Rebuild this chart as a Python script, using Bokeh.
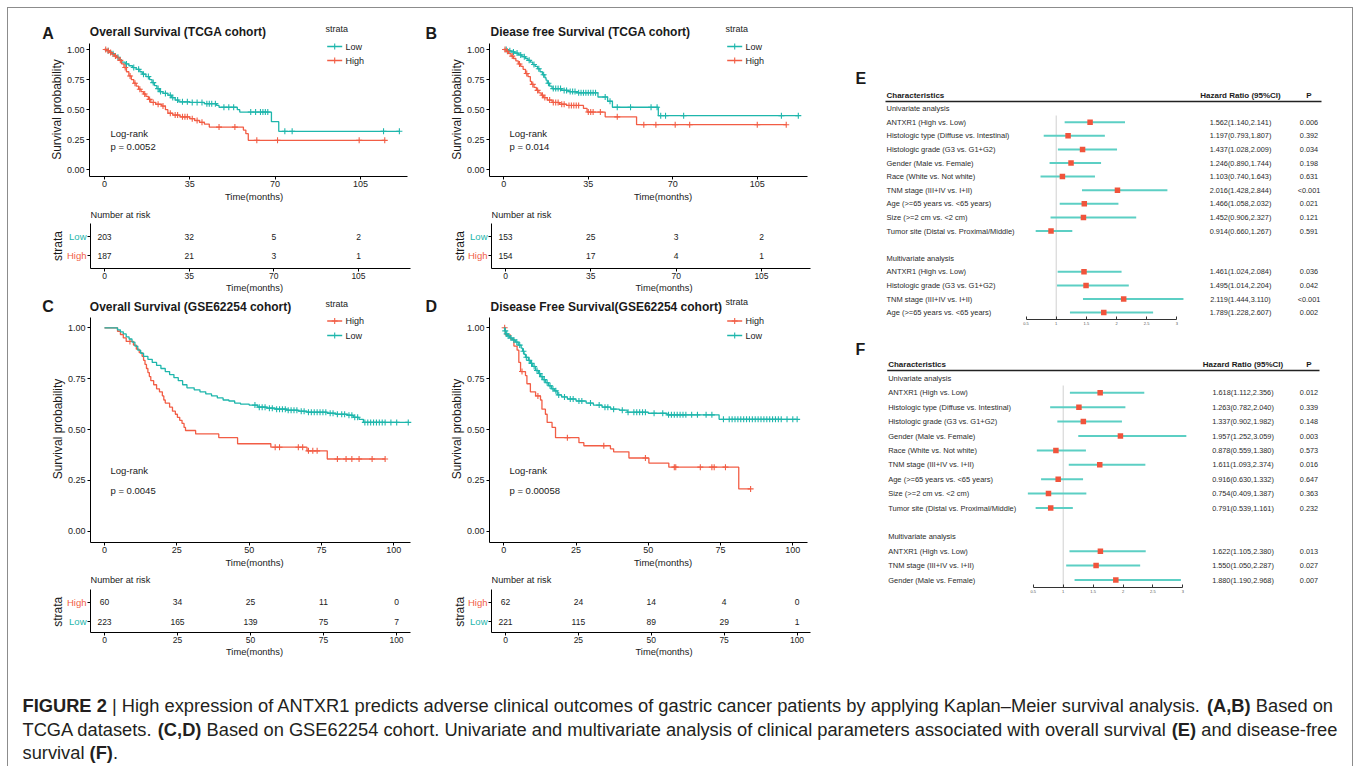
import numpy as np
from bokeh.plotting import figure
from bokeh.models import Range1d, FixedTicker, NumeralTickFormatter, Label, ColumnDataSource, Spacer
from bokeh.layouts import row, column
from bokeh.embed import file_html
from bokeh.resources import INLINE
from bokeh.core.properties import value

FONT = "Liberation Sans"
TEAL = "#1EB6AC"
RED = "#F25D45"
INK = "#1a1a1a"
CI_COLOR = "#5CCFC4"
BOX_COLOR = "#F0543C"

# ---------------- Kaplan-Meier data ----------------
# A: Overall survival, TCGA
A_low_t = [0, 1, 2, 3, 4, 5, 6, 7, 8.5, 10, 11.5, 13, 14.5, 15.5, 17, 18.5, 19.5, 20.5, 21.5, 22.5,
           24, 26, 27.5, 29, 30.5, 35, 41, 46, 47, 54.5, 55.5, 68.5, 71.5]
A_low_s = [1.0, 0.99, 0.98, 0.965, 0.95, 0.935, 0.915, 0.895, 0.88, 0.865, 0.85, 0.835, 0.815, 0.795,
           0.775, 0.75, 0.725, 0.70, 0.675, 0.65, 0.635, 0.62, 0.60, 0.58, 0.565, 0.56, 0.55, 0.535,
           0.52, 0.50, 0.48, 0.40, 0.32]
A_low_end = 121
A_low_cens = [1.5, 3.5, 5.5, 9, 12, 14, 16, 18, 20, 22, 23, 25, 27, 28, 30, 32, 34, 36, 38, 40, 42, 43,
              44, 45.5, 49, 51, 53, 60, 62, 64, 65, 66, 67, 74, 77, 114.5, 121]
A_high_t = [0, 1, 2, 3, 4, 5, 6, 7, 8, 9, 10, 11, 12, 13, 14, 15, 16, 17, 18, 19, 21, 23.5, 25, 26, 28,
            31, 35, 37, 39, 41, 43, 57, 58, 59]
A_high_s = [1.0, 0.99, 0.975, 0.96, 0.945, 0.93, 0.91, 0.88, 0.85, 0.815, 0.78, 0.75, 0.72, 0.695, 0.67,
            0.65, 0.63, 0.61, 0.585, 0.56, 0.545, 0.53, 0.50, 0.47, 0.455, 0.44, 0.425, 0.41, 0.395,
            0.38, 0.355, 0.33, 0.30, 0.245]
A_high_end = 115
A_high_cens = [0.5, 1.5, 2.5, 4.5, 6.5, 8.5, 10.5, 12.5, 14.5, 16.5, 18.5, 20, 22, 24, 27, 29, 30, 32,
               33, 34, 36, 38, 40, 47, 53.5, 62.5, 71, 104.5, 115]

# B: Disease free survival, TCGA
B_low_t = [0, 1.5, 3, 4.5, 6, 7.5, 9, 10, 11, 12, 13, 14, 15, 16, 17, 17.5, 18, 19, 20, 24, 27, 30, 39,
           43, 45, 64]
B_low_s = [1.0, 0.99, 0.98, 0.97, 0.955, 0.94, 0.925, 0.91, 0.895, 0.875, 0.86, 0.84, 0.815, 0.79,
           0.765, 0.745, 0.72, 0.695, 0.675, 0.66, 0.65, 0.64, 0.605, 0.57, 0.52, 0.45]
B_low_end = 122
B_low_cens = [1, 2.5, 4, 5.5, 7, 8.5, 10.5, 12.5, 14.5, 16.5, 18.5, 20.5, 21.5, 22.5, 23.5, 25, 26,
              27.5, 28.5, 29.5, 31, 32, 33, 34, 35, 36, 37, 38, 42, 44, 47, 52.5, 61, 63.5, 65, 67,
              74.5, 115, 122]
B_high_t = [0, 1, 2, 3, 4, 5, 6, 7, 8, 9, 10, 11, 11.5, 12.5, 13.5, 14.5, 15.5, 16.5, 18, 20, 23, 26,
            33, 34.5, 42, 55]
B_high_s = [1.0, 0.985, 0.965, 0.945, 0.925, 0.905, 0.88, 0.86, 0.835, 0.80, 0.775, 0.735, 0.71, 0.685,
            0.66, 0.64, 0.62, 0.60, 0.58, 0.56, 0.545, 0.535, 0.51, 0.48, 0.44, 0.375]
B_high_end = 117
B_high_cens = [0.5, 1.5, 3.5, 6.5, 9.5, 12, 14, 16, 17, 19, 20.5, 21.5, 22.5, 24, 25, 27, 28, 29, 30,
               31, 35, 36, 37, 40, 47, 58, 63, 71, 77, 105, 117]

# C: Overall survival, GSE62254
C_low_t = [0, 4.5, 5.5, 6.5, 7.5, 8.5, 9.5, 10.5, 11.5, 12.5, 13.5, 15, 16.5, 18, 19.5, 21, 22.5, 24,
           25.5, 27, 28.5, 31, 33, 35, 37, 39, 41, 43, 45, 47, 50, 53, 56, 59, 63, 67, 70, 77, 80, 84,
           86, 88, 89.5]
C_low_s = [1.0, 0.99, 0.98, 0.97, 0.955, 0.945, 0.93, 0.91, 0.89, 0.875, 0.86, 0.845, 0.83, 0.815,
           0.80, 0.785, 0.77, 0.755, 0.74, 0.72, 0.705, 0.695, 0.685, 0.675, 0.665, 0.655, 0.645, 0.64,
           0.63, 0.625, 0.62, 0.61, 0.605, 0.60, 0.595, 0.59, 0.585, 0.58, 0.575, 0.57, 0.56, 0.55,
           0.535]
C_low_end = 105
C_low_cens = [52, 53.5, 54.5, 55.5, 57, 58, 59.5, 60.5, 61.5, 62.5, 63.5, 64.5, 65.5, 66.5, 68, 69,
              70.5, 71.5, 72.5, 73.5, 74.5, 75.5, 76.5, 78, 79, 80.5, 82, 83, 84.5, 85.5, 86.5, 87.5,
              90, 91, 92, 93, 94, 95, 96, 97, 99, 101, 105]
C_high_t = [0, 4.5, 5.5, 6.5, 7.5, 10, 11, 12, 13, 13.5, 14, 14.5, 15, 15.5, 16, 17, 18, 19, 20, 20.5,
            21, 22.5, 23.5, 24.5, 25.2, 26, 26.8, 27.5, 28, 31.5, 39.5, 46, 57.5, 70, 77]
C_high_s = [1.0, 0.983, 0.967, 0.95, 0.933, 0.915, 0.895, 0.878, 0.86, 0.84, 0.82, 0.80, 0.78, 0.76,
            0.74, 0.72, 0.70, 0.685, 0.665, 0.645, 0.63, 0.61, 0.59, 0.575, 0.56, 0.545, 0.53, 0.51,
            0.495, 0.478, 0.46, 0.43, 0.413, 0.395, 0.355]
C_high_end = 97
C_high_cens = [8.8, 59, 60.5, 67, 68.5, 70.5, 72, 73.5, 80.5, 83.5, 85.5, 88, 92.5, 97]

# D: Disease free survival, GSE62254
D_low_t = [0, 0.3, 0.6, 1.2, 2, 3, 4, 5, 6, 6.5, 7, 7.5, 8.5, 9.2, 10, 11, 12, 12.7, 13.5, 14.5, 15.5,
           16.5, 17.5, 18.5, 20, 22, 25, 28.5, 31, 34, 37, 40, 42.7, 50, 56.5, 74.5]
D_low_s = [1.0, 0.985, 0.97, 0.96, 0.95, 0.94, 0.93, 0.915, 0.90, 0.885, 0.87, 0.855, 0.84, 0.825,
           0.81, 0.79, 0.775, 0.76, 0.745, 0.73, 0.715, 0.70, 0.69, 0.67, 0.66, 0.65, 0.64, 0.63,
           0.62, 0.61, 0.60, 0.595, 0.585, 0.58, 0.572, 0.55]
D_low_end = 101.5
D_low_cens = [0.5, 1, 1.5, 2.5, 3.5, 4.5, 5.5, 6.8, 7.8, 8.8, 9.6, 10.5, 11.5, 12.4, 13.2, 14, 15, 16,
              17, 18, 19, 21, 23, 24, 26, 27, 30, 33, 35, 36, 38, 41, 43, 45, 46, 47, 48, 49, 52, 55,
              57, 58, 59, 60, 61, 62, 63, 65, 67, 70, 72, 76, 78, 79, 80, 81, 82, 83, 84, 85, 86, 87,
              88, 89, 90, 91, 92, 93, 94, 95, 96, 98, 100, 101.5]
D_high_t = [0, 0.5, 2.3, 3.5, 4.6, 5.2, 5.8, 7.5, 8, 9.2, 11, 12.7, 13.2, 14.4, 15, 16.7, 17.9, 26,
            27.7, 36.9, 38, 43.3, 50.2, 57.1, 81.3]
D_high_s = [1.0, 0.965, 0.945, 0.91, 0.89, 0.83, 0.785, 0.765, 0.725, 0.685, 0.665, 0.645, 0.60, 0.575,
            0.535, 0.51, 0.46, 0.435, 0.42, 0.405, 0.39, 0.36, 0.335, 0.315, 0.208]
D_high_end = 85.4
D_high_cens = [0.3, 6.3, 11.8, 22, 34.6, 49, 59, 59.5, 68, 72, 72.8, 76.7, 85.4]

# p-values
A_p, B_p, C_p, D_p = "0.0052", "0.014", "0.0045", "0.00058"

# Number at risk tables
AB_risk_t = [0, 35, 70, 105]
A_risk_low = [203, 32, 5, 2]
A_risk_high = [187, 21, 3, 1]
B_risk_low = [153, 25, 3, 2]
B_risk_high = [154, 17, 4, 1]
CD_risk_t = [0, 25, 50, 75, 100]
C_risk_high = [60, 34, 25, 11, 0]
C_risk_low = [223, 165, 139, 75, 7]
D_risk_high = [62, 24, 14, 4, 0]
D_risk_low = [221, 115, 89, 29, 1]

AB_xticks = [0, 35, 70, 105]
CD_xticks = [0, 25, 50, 75, 100]
KM_yticks = [0, 0.25, 0.5, 0.75, 1.0]

# ---------------- Forest plot data ----------------
E_labels_uni = ["ANTXR1 (High vs. Low)", "Histologic type (Diffuse vs. Intestinal)",
                "Histologic grade (G3 vs. G1+G2)", "Gender (Male vs. Female)",
                "Race (White vs. Not white)", "TNM stage (III+IV vs. I+II)",
                "Age (>=65 years vs. <65 years)", "Size (>=2 cm vs. <2 cm)",
                "Tumor site (Distal vs. Proximal/Middle)"]
E_hr_uni = [1.562, 1.197, 1.437, 1.246, 1.103, 2.016, 1.466, 1.452, 0.914]
E_lo_uni = [1.140, 0.793, 1.028, 0.890, 0.740, 1.428, 1.058, 0.906, 0.660]
E_hi_uni = [2.141, 1.807, 2.009, 1.744, 1.643, 2.844, 2.032, 2.327, 1.267]
E_p_uni = ["0.006", "0.392", "0.034", "0.198", "0.631", "<0.001", "0.021", "0.121", "0.591"]
E_labels_multi = ["ANTXR1 (High vs. Low)", "Histologic grade (G3 vs. G1+G2)",
                  "TNM stage (III+IV vs. I+II)", "Age (>=65 years vs. <65 years)"]
E_hr_multi = [1.461, 1.495, 2.119, 1.789]
E_lo_multi = [1.024, 1.014, 1.444, 1.228]
E_hi_multi = [2.084, 2.204, 3.110, 2.607]
E_p_multi = ["0.036", "0.042", "<0.001", "0.002"]

F_labels_uni = E_labels_uni
F_hr_uni = [1.618, 1.263, 1.337, 1.957, 0.878, 1.611, 0.916, 0.754, 0.791]
F_lo_uni = [1.112, 0.782, 0.902, 1.252, 0.559, 1.093, 0.630, 0.409, 0.539]
F_hi_uni = [2.356, 2.040, 1.982, 3.059, 1.380, 2.374, 1.332, 1.387, 1.161]
F_p_uni = ["0.012", "0.339", "0.148", "0.003", "0.573", "0.016", "0.647", "0.363", "0.232"]
F_labels_multi = ["ANTXR1 (High vs. Low)", "TNM stage (III+IV vs. I+II)", "Gender (Male vs. Female)"]
F_hr_multi = [1.622, 1.550, 1.880]
F_lo_multi = [1.105, 1.050, 1.190]
F_hi_multi = [2.380, 2.287, 2.968]
F_p_multi = ["0.013", "0.027", "0.007"]

FOREST_TICKS = [0.5, 1, 1.5, 2, 2.5, 3]

CAPTION = [
    [("FIGURE 2 ", True),
     ("| High expression of ANTXR1 predicts adverse clinical outcomes of gastric cancer patients by "
      "applying Kaplan\u2013Meier survival analysis. ", False),
     ("(A,B)", True), (" Based on", False)],
    [("TCGA datasets. ", False), ("(C,D)", True),
     (" Based on GSE62254 cohort. Univariate and multivariate analysis of clinical parameters "
      "associated with overall survival ", False),
     ("(E)", True), (" and disease-free", False)],
    [("survival ", False), ("(F)", True), (".", False)],
]

# ---------------- font metrics (Arial / Liberation Sans, 1/1000 em) ----------------
_reg = ([278, 278, 355, 556, 556, 889, 667, 191, 333, 333, 389, 584, 278, 333, 278, 278] + [556] * 10 +
        [278, 278, 584, 584, 584, 556, 1015] +
        [667, 667, 722, 722, 667, 611, 778, 722, 278, 500, 667, 556, 833, 722, 778, 667, 778, 722, 667,
         611, 722, 667, 944, 667, 667, 611] +
        [278, 278, 278, 469, 556, 333] +
        [556, 556, 500, 556, 556, 278, 556, 556, 222, 222, 500, 222, 833, 556, 556, 556, 556, 333, 500,
         278, 556, 500, 722, 500, 500, 500] +
        [334, 260, 334, 584])
W_REG = {chr(32 + i): w for i, w in enumerate(_reg)}
W_REG["\u2013"] = 556
W_BOLD = {'F': 611, 'I': 278, 'G': 778, 'U': 722, 'R': 722, 'E': 667, ' ': 278, '2': 556, '(': 333,
          ')': 333, 'A': 722, 'B': 722, ',': 278, 'C': 722, 'D': 722}


def text_w(s, size, bold):
    tbl = W_BOLD if bold else W_REG
    return sum(tbl.get(ch, W_REG.get(ch, 556)) for ch in s) * size / 1000.0


# ---------------- geometry helpers (page pixel coordinates) ----------------
class Geo:
    def __init__(self, left, top, w, h, frame_left, frame_bottom, x0=0, xppu=1, y0=0, yppu=-1):
        self.left, self.top, self.w, self.h = left, top, w, h
        self.bl = int(round(frame_left - left))
        self.bb = int(round(top + h - frame_bottom))
        self.fl = left + self.bl
        self.fb = top + h - self.bb
        self.x0, self.xppu, self.y0, self.yppu = x0, xppu, y0, yppu

    def dx(self, px):
        return (px - self.x0) / self.xppu

    def dy(self, py):
        return (self.y0 - py) / self.yppu


def plain_geo(left, top, w, h, frame_bottom=None):
    return Geo(left, top, w, h, left, top + h if frame_bottom is None else frame_bottom)


def make_fig(g, xaxis=True, yaxis=True):
    p = figure(width=g.w, height=g.h,
               x_range=Range1d(g.dx(g.fl), g.dx(g.left + g.w)),
               y_range=Range1d(g.dy(g.fb), g.dy(g.top)),
               output_backend="svg", toolbar_location=None,
               x_axis_location="below" if xaxis else None,
               y_axis_location="left" if yaxis else None,
               min_border_left=g.bl, min_border_right=0, min_border_top=0,
               min_border_bottom=g.bb)
    p.outline_line_color = None
    p.xgrid.visible = False
    p.ygrid.visible = False
    p.background_fill_color = "white"
    p.border_fill_color = "white"
    return p


def lab(p, g, px, py, text, size, bold=False, align="left", baseline="middle", color=INK, angle=0):
    p.add_layout(Label(x=g.dx(px), y=g.dy(py), text=text, text_font=FONT,
                       text_font_size=f"{size}px", text_font_style="bold" if bold else "normal",
                       text_align=align, text_baseline=baseline, text_color=color,
                       angle=angle, angle_units="deg"))


def style_axis(ax, tick_size, label_size):
    ax.axis_line_color = "black"
    ax.axis_line_width = 1
    ax.major_tick_line_color = "black"
    ax.major_tick_out = 3
    ax.major_tick_in = 0
    ax.minor_tick_line_color = None
    ax.major_label_text_font = FONT
    ax.major_label_text_font_size = f"{tick_size}px"
    ax.major_label_text_color = "#222222"
    ax.axis_label_text_font = FONT
    ax.axis_label_text_font_size = f"{label_size}px"
    ax.axis_label_text_font_style = "normal"
    ax.axis_label_text_color = INK


def km_header(g, letter, letter_xy, title, title_xy, leg_x, leg_title_y):
    p = make_fig(g, False, False)
    lab(p, g, letter_xy[0], letter_xy[1], letter, 16, bold=True)
    lab(p, g, title_xy[0], title_xy[1], title, 12, bold=True)
    lab(p, g, leg_x, leg_title_y, "strata", 9)
    return p


def km_main(g, curves, pval, xticks, x_hi_px, leg_x, leg_item_y, lr_x, lr_y1, lr_y2):
    p = make_fig(g)
    xa, ya = p.xaxis[0], p.yaxis[0]
    style_axis(xa, 9, 9.5)
    style_axis(ya, 9, 12)
    xa.ticker = FixedTicker(ticks=xticks)
    xa.bounds = (g.dx(g.fl), g.dx(x_hi_px))
    xa.axis_label = "Time(months)"
    xa.major_label_standoff = 1
    xa.axis_label_standoff = 1
    ya.ticker = FixedTicker(ticks=KM_yticks)
    ya.formatter = NumeralTickFormatter(format="0.00")
    ya.bounds = (g.dy(g.fb), 1.05)
    ya.axis_label = "Survival probability"
    ya.major_label_standoff = 2
    ya.axis_label_standoff = 0
    for name, color, t, s, end, cens in curves:
        t = np.asarray(t, float)
        s = np.asarray(s, float)
        p.step(np.append(t, end), np.append(s, s[-1]), mode="after", line_color=color, line_width=1.3)
        c = np.asarray(cens, float)
        cy = s[np.searchsorted(t, c, side="right") - 1]
        p.scatter(c, cy, marker="cross", size=6, line_color=color, line_width=1.1)
    for (name, color, *_), iy in zip(curves, leg_item_y):
        p.segment(x0=[g.dx(leg_x + 1.7)], y0=[g.dy(iy)], x1=[g.dx(leg_x + 16.7)], y1=[g.dy(iy)],
                  line_color=color, line_width=1.3)
        p.scatter([g.dx(leg_x + 9.2)], [g.dy(iy)], marker="cross", size=6, line_color=color,
                  line_width=1.1)
        lab(p, g, leg_x + 20, iy, name, 9)
    lab(p, g, lr_x, lr_y1, "Log-rank", 9.5)
    lab(p, g, lr_x, lr_y2, f"p = {pval}", 9.5)
    return p


def km_risk(g, gs, times, rows, xticks, x_hi_px, v_top, np_xy, strata_x, rowlab_x):
    p = make_fig(g)
    xa, ya = p.xaxis[0], p.yaxis[0]
    style_axis(xa, 8.5, 9.3)
    style_axis(ya, 8.5, 9)
    xa.ticker = FixedTicker(ticks=xticks)
    xa.bounds = (g.dx(g.fl), g.dx(x_hi_px))
    xa.axis_label = "Time(months)"
    xa.major_label_standoff = 1
    xa.axis_label_standoff = 1
    ya.ticker = FixedTicker(ticks=[1, 2])
    ya.major_label_overrides = {1: "", 2: ""}
    ya.major_label_standoff = 0
    ya.bounds = (g.dy(g.fb), v_top)
    strip = make_fig(gs, False, False)
    vs = []
    for name, color, counts, v in rows:
        src = ColumnDataSource(dict(x=list(times), y=[v] * len(times), t=[str(c) for c in counts]))
        p.text(x="x", y="y", text="t", source=src, text_font=value(FONT), text_font_size="8.5px",
               text_align="center", text_baseline="middle", text_color=INK)
        py = g.y0 - v * g.yppu
        lab(strip, gs, rowlab_x, py, name, 9.5, align="right", color=color)
        vs.append(py)
    lab(p, g, np_xy[0], np_xy[1], "Number at risk", 9.2)
    lab(strip, gs, strata_x, sum(vs) / len(vs), "strata", 12, align="center", angle=90)
    return strip, p


def forest(g, letter, letter_xy, uni, multi, label_px, hr_px, p_px, uline_py, uline_x1, ref_top_py):
    p = make_fig(g, xaxis=True, yaxis=False)
    xa = p.xaxis[0]
    style_axis(xa, 4, 4)
    xa.ticker = FixedTicker(ticks=FOREST_TICKS)
    xa.bounds = (FOREST_TICKS[0], FOREST_TICKS[-1])
    xa.major_tick_in = 3
    xa.major_tick_out = 0
    xa.major_label_standoff = 2
    xa.major_label_text_color = "#555555"
    xa.axis_line_color = "#333333"
    xa.major_tick_line_color = "#333333"

    lu, hu, lou, hiu, pu = uni
    lm, hm, lom, him, pm = multi
    ys = list(range(len(lu))) + [len(lu) + 2 + j for j in range(len(lm))]
    labels = list(lu) + list(lm)
    hr = list(hu) + list(hm)
    lo = list(lou) + list(lom)
    hi = list(hiu) + list(him)
    pv = list(pu) + list(pm)
    hrtxt = [f"{a:.3f}({b:.3f},{c:.3f})" for a, b, c in zip(hr, lo, hi)]

    p.segment(x0=[1], y0=[g.dy(ref_top_py)], x1=[1], y1=[g.dy(g.fb)], line_color="#d0d0d0",
              line_width=1)
    src = ColumnDataSource(dict(y=ys, lab=labels, hr=hr, lo=lo, hi=hi, hrt=hrtxt, p=pv,
                                xl=[g.dx(label_px)] * len(ys), xh=[g.dx(hr_px)] * len(ys),
                                xp=[g.dx(p_px)] * len(ys)))
    p.segment(x0="lo", y0="y", x1="hi", y1="y", source=src, line_color=CI_COLOR, line_width=2)
    p.scatter(x="hr", y="y", source=src, marker="square", size=5.5, fill_color=BOX_COLOR,
              line_color=None)
    p.text(x="xl", y="y", text="lab", source=src, text_font=value(FONT), text_font_size="7.5px",
           text_align="left", text_baseline="middle", text_color="#2b2b2b")
    p.text(x="xh", y="y", text="hrt", source=src, text_font=value(FONT), text_font_size="7.3px",
           text_align="center", text_baseline="middle", text_color="#2b2b2b")
    p.text(x="xp", y="y", text="p", source=src, text_font=value(FONT), text_font_size="7.3px",
           text_align="center", text_baseline="middle", text_color="#2b2b2b")

    def ypx(idx):
        return g.y0 - idx * g.yppu

    lab(p, g, letter_xy[0], letter_xy[1], letter, 16, bold=True)
    lab(p, g, label_px, ypx(-2), "Characteristics", 8, bold=True)
    lab(p, g, hr_px, ypx(-2), "Hazard Ratio (95%CI)", 8, bold=True, align="center")
    lab(p, g, p_px, ypx(-2), "P", 8, bold=True, align="center")
    lab(p, g, label_px, ypx(-1), "Univariate analysis", 7.5, color="#2b2b2b")
    lab(p, g, label_px, ypx(len(lu) + 1), "Multivariate analysis", 7.5, color="#2b2b2b")
    p.segment(x0=[g.dx(label_px - 1)], y0=[g.dy(uline_py)], x1=[g.dx(uline_x1)], y1=[g.dy(uline_py)],
              line_color="#222222", line_width=1.5)
    return p


def caption_fig(g, lines, x_start, ys, size):
    p = make_fig(g, xaxis=False, yaxis=False)
    for segs, y in zip(lines, ys):
        x = x_start
        for txt, bold in segs:
            stripped = txt.strip()
            lead = len(txt) - len(txt.lstrip())
            xx = x + text_w(txt[:lead], size, bold)
            p.text(x=[g.dx(xx)], y=[g.dy(y)], text=[stripped], text_font=value(FONT),
                   text_font_size=f"{size}px", text_font_style="bold" if bold else "normal",
                   text_align="left", text_baseline="middle", text_color="#231f20")
            x += text_w(txt, size, bold)
    return p


# ---------------- build panels (page coordinates; content starts at 8,8) ----------------
hA = km_header(plain_geo(8, 8, 410, 34), "A", (41.7, 32.5), "Overall Survival (TCGA cohort)",
               (89.3, 31.7), 325, 28.3)
hB = km_header(plain_geo(418, 8, 418, 34), "B", (425, 32.5), "Diease free Survival (TCGA cohort)",
               (490, 31.7), 725, 28.3)
hC = km_header(plain_geo(8, 296, 410, 19), "C", (41.7, 305.5), "Overall Survival (GSE62254 cohort)",
               (89.3, 306.7), 325, 303)
hD = km_header(plain_geo(418, 296, 418, 19), "D", (425, 305.5), "Disease Free Survival(GSE62254 cohort)",
               (490, 306.7), 725, 301.5)

gA = Geo(8, 42, 410, 168, 89.3, 176, 104, 2.437, 169.3, 120.3)
gB = Geo(418, 42, 418, 168, 489, 176, 503.3, 2.414, 169.3, 120.3)
gC = Geo(8, 315, 410, 256, 90, 541.7, 104, 2.893, 530.7, 203.4)
gD = Geo(418, 315, 418, 256, 489, 541.7, 503.3, 2.89, 530.7, 203.4)

pA = km_main(gA, [("Low", TEAL, A_low_t, A_low_s, A_low_end, A_low_cens),
                  ("High", RED, A_high_t, A_high_s, A_high_end, A_high_cens)],
             A_p, AB_xticks, 406.7, 325, [46, 60], 110, 133.3, 145.7)
pB = km_main(gB, [("Low", TEAL, B_low_t, B_low_s, B_low_end, B_low_cens),
                  ("High", RED, B_high_t, B_high_s, B_high_end, B_high_cens)],
             B_p, AB_xticks, 806.7, 725, [46, 60], 509, 133.3, 145.7)
pC = km_main(gC, [("High", RED, C_high_t, C_high_s, C_high_end, C_high_cens),
                  ("Low", TEAL, C_low_t, C_low_s, C_low_end, C_low_cens)],
             C_p, CD_xticks, 410, 325, [320.5, 335], 110, 470, 490)
pD = km_main(gD, [("High", RED, D_high_t, D_high_s, D_high_end, D_high_cens),
                  ("Low", TEAL, D_low_t, D_low_s, D_low_end, D_low_cens)],
             D_p, CD_xticks, 806.7, 725, [320.5, 335], 509, 470, 490)

sA, rA = km_risk(Geo(87, 210, 331, 86, 90, 268.3, 104, 2.419, 274, 19),
                 plain_geo(8, 210, 79, 86, 268.3),
                 AB_risk_t, [("Low", TEAL, A_risk_low, 2), ("High", RED, A_risk_high, 1)],
                 AB_xticks, 410, 2.68, (90, 214), 57.5, 86)
sB, rB = km_risk(Geo(488, 210, 348, 86, 491, 268.3, 505, 2.438, 274, 19),
                 plain_geo(418, 210, 70, 86, 268.3),
                 AB_risk_t, [("Low", TEAL, B_risk_low, 2), ("High", RED, B_risk_high, 1)],
                 AB_xticks, 810, 2.68, (491, 214), 459, 487)
sC, rC = km_risk(Geo(87, 571, 331, 94, 90, 631.7, 104, 2.92, 640.3, 19.3),
                 plain_geo(8, 571, 79, 94, 631.7),
                 CD_risk_t, [("High", RED, C_risk_high, 2), ("Low", TEAL, C_risk_low, 1)],
                 CD_xticks, 410, 2.64, (90, 579), 57.5, 86)
sD, rD = km_risk(Geo(488, 571, 348, 94, 491, 631.7, 505, 2.915, 640.3, 19.3),
                 plain_geo(418, 571, 70, 94, 631.7),
                 CD_risk_t, [("High", RED, D_risk_high, 2), ("Low", TEAL, D_risk_low, 1)],
                 CD_xticks, 810, 2.64, (491, 579), 459, 487)

gE = Geo(836, 8, 516, 330, 836, 319.3, 1055.7 - 60.3, 60.3, 121.7, -13.6)
gF = Geo(836, 338, 516, 327, 836, 587.3, 1062.7 - 59.8, 59.8, 392.3, -14.4)

pE = forest(gE, "E", (855, 78),
            (E_labels_uni, E_hr_uni, E_lo_uni, E_hi_uni, E_p_uni),
            (E_labels_multi, E_hr_multi, E_lo_multi, E_hi_multi, E_p_multi),
            886, 1240, 1308.5, 101, 1321, 115)
pF = forest(gF, "F", (855, 349),
            (F_labels_uni, F_hr_uni, F_lo_uni, F_hi_uni, F_p_uni),
            (F_labels_multi, F_hr_multi, F_lo_multi, F_hi_multi, F_p_multi),
            887.7, 1242.5, 1308.5, 370, 1319, 385)

pCap = caption_fig(plain_geo(8, 665, 1344, 102), CAPTION, 22, [705, 728.5, 752], 18.3)

left_col = column(row(hA, hB), row(pA, pB), row(sA, rA, sB, rB),
                  row(hC, hD), row(pC, pD), row(sC, rC, sD, rD))
right_col = column(pE, pF)
inner = column(row(left_col, right_col), pCap,
               styles={"box-shadow": "-1px -1px 0 0 #8c8c8c, 1px -1px 0 0 #8c8c8c"})
root = column(Spacer(width=1344, height=8), row(Spacer(width=8, height=759), inner))

open("out.html", "w").write(file_html(root, INLINE))
